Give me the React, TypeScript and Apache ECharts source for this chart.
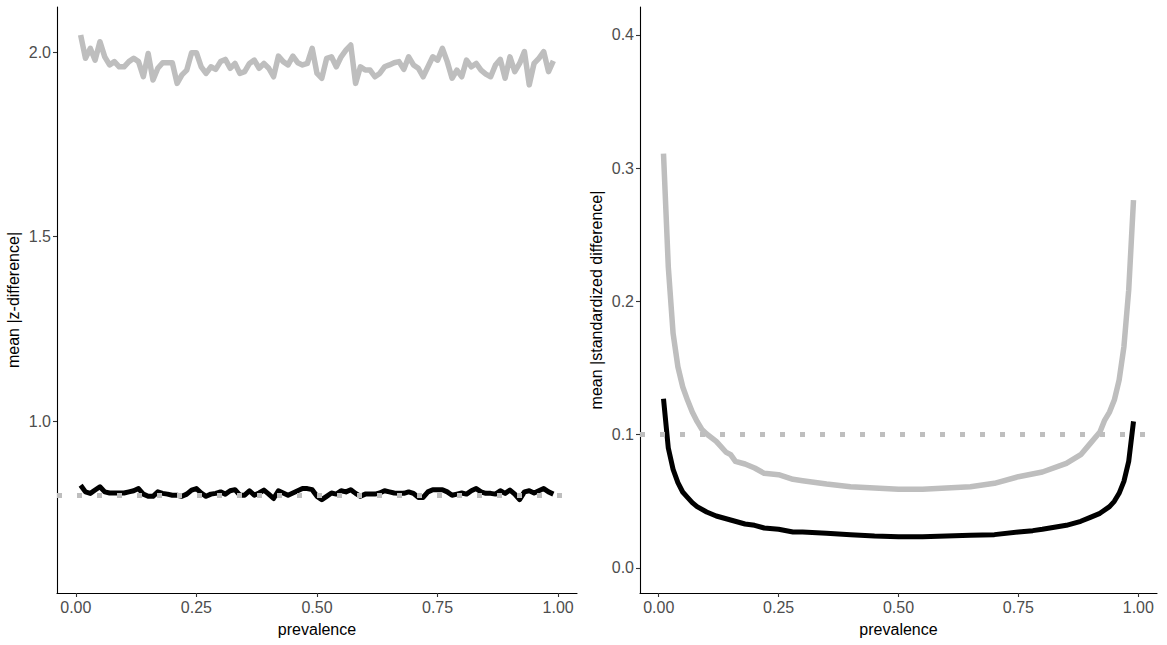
import React, { useEffect, useRef } from "react";
import * as echarts from "echarts";

// prevalence grid (left panel)
const prevalence = [
  0.01, 0.02, 0.03, 0.04, 0.05, 0.06, 0.07, 0.08, 0.09, 0.1,
  0.11, 0.12, 0.13, 0.14, 0.15, 0.16, 0.17, 0.18, 0.19, 0.2,
  0.21, 0.22, 0.23, 0.24, 0.25, 0.26, 0.27, 0.28, 0.29, 0.3,
  0.31, 0.32, 0.33, 0.34, 0.35, 0.36, 0.37, 0.38, 0.39, 0.4,
  0.41, 0.42, 0.43, 0.44, 0.45, 0.46, 0.47, 0.48, 0.49, 0.5,
  0.51, 0.52, 0.53, 0.54, 0.55, 0.56, 0.57, 0.58, 0.59, 0.6,
  0.61, 0.62, 0.63, 0.64, 0.65, 0.66, 0.67, 0.68, 0.69, 0.7,
  0.71, 0.72, 0.73, 0.74, 0.75, 0.76, 0.77, 0.78, 0.79, 0.8,
  0.81, 0.82, 0.83, 0.84, 0.85, 0.86, 0.87, 0.88, 0.89, 0.9,
  0.91, 0.92, 0.93, 0.94, 0.95, 0.96, 0.97, 0.98, 0.99,
];

// left panel: mean |z-difference|
const zGrey = [
  2.046, 1.983, 2.01, 1.978, 2.028, 1.987, 1.965, 1.974, 1.96, 1.96,
  1.974, 1.983, 1.974, 1.933, 1.996, 1.924, 1.956, 1.971, 1.971, 1.971,
  1.915, 1.938, 1.951, 1.998, 1.998, 1.96, 1.942, 1.96, 1.953, 1.974,
  1.98, 1.956, 1.969, 1.942, 1.947, 1.969, 1.978, 1.956, 1.969, 1.956,
  1.933, 1.989, 1.974, 1.965, 1.989, 1.971, 1.965, 1.969, 2.01, 1.942,
  1.929, 1.983, 1.987, 1.96, 1.987, 2.005, 2.019, 1.915, 1.96, 1.951,
  1.951, 1.933, 1.942, 1.96, 1.965, 1.971, 1.974, 1.953, 1.987, 1.965,
  1.956, 1.933, 1.96, 1.987, 1.978, 2.01, 1.974, 1.929, 1.951, 1.933,
  1.978, 1.96, 1.969, 1.951, 1.94, 1.933, 1.965, 1.98, 1.929, 1.987,
  1.947, 1.969, 2.001, 1.911, 1.969, 1.983, 2.001, 1.947, 1.976,
];
const zBlack = [
  0.826, 0.808, 0.804, 0.813, 0.822, 0.808, 0.805, 0.805, 0.805, 0.805,
  0.808, 0.811, 0.817, 0.802, 0.796, 0.796, 0.808, 0.804, 0.802, 0.799,
  0.799, 0.796, 0.802, 0.813, 0.817, 0.805, 0.796, 0.802, 0.804, 0.808,
  0.802, 0.811, 0.814, 0.799, 0.799, 0.811, 0.799, 0.805, 0.813, 0.802,
  0.79, 0.811, 0.805, 0.799, 0.805, 0.811, 0.817, 0.817, 0.814, 0.796,
  0.787, 0.796, 0.805, 0.802, 0.811, 0.808, 0.814, 0.804, 0.796, 0.802,
  0.802, 0.802, 0.805, 0.811, 0.808, 0.805, 0.804, 0.804, 0.808, 0.804,
  0.793, 0.793, 0.808, 0.814, 0.814, 0.814, 0.808, 0.799, 0.802, 0.805,
  0.802, 0.811, 0.817, 0.808, 0.804, 0.804, 0.802, 0.811, 0.804, 0.813,
  0.802, 0.787, 0.808, 0.811, 0.805, 0.811, 0.817, 0.808, 0.802,
];
const zReference = 0.8;

// right panel: mean |standardized difference|
const sdGreyX = [
  0.01, 0.02, 0.03, 0.04, 0.05, 0.06, 0.07, 0.08, 0.09, 0.1, 0.12, 0.14, 0.15, 0.16,
  0.18, 0.2, 0.22, 0.25, 0.28, 0.3, 0.35, 0.4, 0.45, 0.5, 0.55, 0.6, 0.65, 0.7,
  0.75, 0.8, 0.85, 0.88, 0.9, 0.92, 0.93, 0.94, 0.95, 0.96, 0.97, 0.98, 0.99,
];
const sdGrey = [
  0.311, 0.226, 0.176, 0.151, 0.136, 0.126, 0.117, 0.11, 0.104, 0.1005, 0.095, 0.087, 0.085, 0.08,
  0.078, 0.075, 0.071, 0.07, 0.0665, 0.0655, 0.063, 0.061, 0.06, 0.059, 0.059, 0.06, 0.061, 0.0635,
  0.0685, 0.072, 0.0785, 0.085, 0.0935, 0.102, 0.111, 0.117, 0.126, 0.141, 0.166, 0.2085, 0.276,
];
const sdBlackX = [
  0.01, 0.02, 0.03, 0.04, 0.05, 0.06, 0.07, 0.08, 0.1, 0.12, 0.15, 0.18, 0.2, 0.22,
  0.25, 0.28, 0.3, 0.35, 0.4, 0.45, 0.5, 0.55, 0.6, 0.65, 0.7, 0.75, 0.78, 0.8,
  0.85, 0.88, 0.9, 0.92, 0.94, 0.95, 0.96, 0.97, 0.98, 0.99,
];
const sdBlack = [
  0.127, 0.09, 0.074, 0.064, 0.057, 0.053, 0.049, 0.046, 0.042, 0.039, 0.036, 0.033, 0.032, 0.03,
  0.029, 0.027, 0.027, 0.026, 0.025, 0.024, 0.0235, 0.0235, 0.024, 0.0245, 0.025, 0.027, 0.028, 0.029,
  0.032, 0.035, 0.038, 0.041, 0.046, 0.05, 0.056, 0.065, 0.08, 0.11,
];
const sdReference = 0.1;

const xTicks = [0, 0.25, 0.5, 0.75, 1];
const leftYTicks = [1.0, 1.5, 2.0];
const rightYTicks = [0, 0.1, 0.2, 0.3, 0.4];

const GREY = "#BEBEBE";
const FONT = "Liberation Sans, Arial, sans-serif";

const zip = (xs: number[], ys: number[]) => xs.map((x, i) => [x, ys[i]]);

function makeXAxis(gridIndex: number) {
  return {
    type: "value",
    gridIndex,
    min: -0.039,
    max: 1.039,
    name: "prevalence",
    nameLocation: "middle",
    nameGap: 28,
    nameTextStyle: { color: "#000", fontSize: 16, fontFamily: FONT },
    axisLine: { show: true, onZero: false, lineStyle: { color: "#000", width: 1.1 } },
    axisTick: { show: true, length: 4, customValues: xTicks, lineStyle: { color: "#333", width: 1.1 } },
    axisLabel: {
      customValues: xTicks,
      formatter: (v: number) => v.toFixed(2),
      color: "#4D4D4D",
      fontSize: 16,
      fontFamily: FONT,
      margin: 6,
    },
    splitLine: { show: false },
  };
}

function makeYAxis(gridIndex: number, min: number, max: number, ticks: number[], name: string) {
  return {
    type: "value",
    gridIndex,
    min,
    max,
    name,
    nameLocation: "middle",
    nameGap: 36,
    nameTextStyle: { color: "#000", fontSize: 16, fontFamily: FONT },
    axisLine: { show: true, onZero: false, lineStyle: { color: "#000", width: 1.1 } },
    axisTick: { show: true, length: 4, customValues: ticks, lineStyle: { color: "#333", width: 1.1 } },
    axisLabel: {
      customValues: ticks,
      formatter: (v: number) => v.toFixed(1),
      color: "#4D4D4D",
      fontSize: 16,
      fontFamily: FONT,
      margin: 6,
    },
    splitLine: { show: false },
  };
}

function refLine(xAxisIndex: number, yAxisIndex: number, value: number) {
  return {
    type: "line",
    xAxisIndex,
    yAxisIndex,
    data: [],
    silent: true,
    markLine: {
      silent: true,
      symbol: "none",
      label: { show: false },
      lineStyle: { color: GREY, width: 5, type: [5, 15], cap: "butt" },
      data: [{ yAxis: value }],
    },
    z: 5,
  };
}

function lineSeries(xAxisIndex: number, yAxisIndex: number, data: number[][], color: string, width: number) {
  return {
    type: "line",
    xAxisIndex,
    yAxisIndex,
    data,
    showSymbol: false,
    symbol: "none",
    lineStyle: { color, width, join: "round", cap: "butt" },
    silent: true,
    z: 3,
  };
}

export default function App() {
  const ref = useRef<HTMLDivElement>(null);
  useEffect(() => {
    if (!ref.current) return;
    const chart = echarts.init(ref.current, undefined, { renderer: "svg" });
    chart.setOption({
      animation: false,
      backgroundColor: "#fff",
      textStyle: { fontFamily: FONT },
      grid: [
        { left: 57, right: 590, top: 7, bottom: 52 },
        { left: 640, right: 10, top: 7, bottom: 52 },
      ],
      xAxis: [makeXAxis(0), makeXAxis(1)],
      yAxis: [
        makeYAxis(0, 0.534, 2.122, leftYTicks, "mean |z-difference|"),
        makeYAxis(1, -0.0188, 0.421, rightYTicks, "mean |standardized difference|"),
      ],
      series: [
        lineSeries(0, 0, zip(prevalence, zGrey), GREY, 5.5),
        lineSeries(0, 0, zip(prevalence, zBlack), "#000", 5),
        refLine(0, 0, zReference),
        lineSeries(1, 1, zip(sdGreyX, sdGrey), GREY, 5.5),
        lineSeries(1, 1, zip(sdBlackX, sdBlack), "#000", 5),
        refLine(1, 1, sdReference),
      ],
    });
    return () => chart.dispose();
  }, []);
  return (
    <div
      ref={ref}
      style={{ position: "absolute", left: 0, top: 0, width: 1167, height: 645 }}
    />
  );
}
